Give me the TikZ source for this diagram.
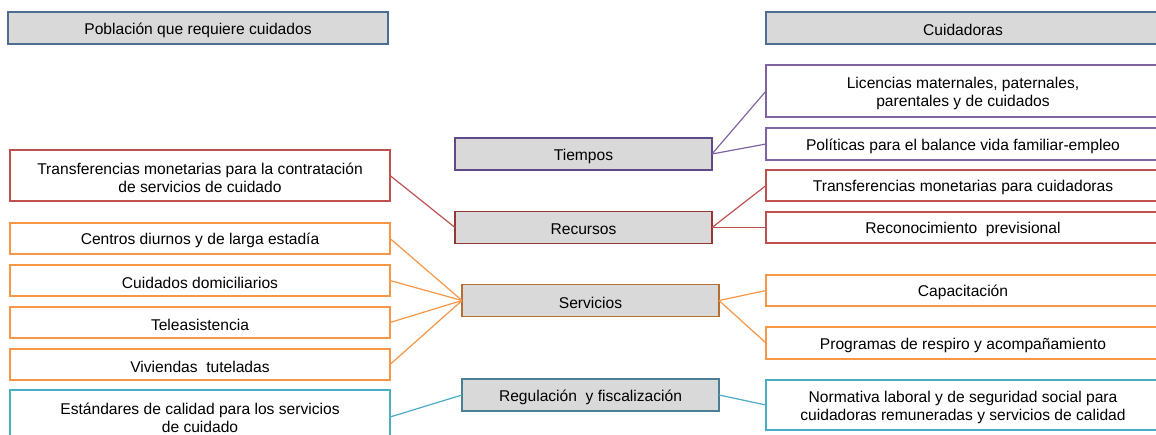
\documentclass[tikz,border=0pt]{standalone}
\usepackage{fontspec}
\setmainfont{Liberation Sans}
\definecolor{hdrline}{HTML}{4F6C91}
\definecolor{boxfill}{HTML}{D9D9D9}
\definecolor{purp}{HTML}{8064A2}
\definecolor{purpdk}{HTML}{5F4A87}
\definecolor{redl}{HTML}{C0504D}
\definecolor{reddk}{HTML}{953735}
\definecolor{oran}{HTML}{F79646}
\definecolor{orandk}{HTML}{B66D31}
\definecolor{cyan1}{HTML}{4BACC6}
\definecolor{cyandk}{HTML}{4A7E92}
\begin{document}
\begin{tikzpicture}[x=1pt,y=-1pt,
  every node/.style={inner sep=0pt, outer sep=0pt},
  txt/.style={font=\fontsize{15.6}{18}\selectfont, align=center, yshift=-2pt},
  box/.style={draw, line width=1.3pt, fill=white, minimum width=#1},
  hub/.style={draw, line width=1.3pt, fill=boxfill, minimum width=257pt, minimum height=32pt},
  hdr/.style={draw=hdrline, line width=1.3pt, fill=boxfill, minimum height=32pt},
  link/.style={line width=1.2pt}]
\useasboundingbox (0,0) rectangle (1156,434);
% column headings
\node[hdr, minimum width=380pt, label={[txt]center:{Población que requiere cuidados}}] (hl) at (198,28) {};
\node[hdr, minimum width=394pt, label={[txt]center:{Cuidadoras}}] (hr) at (963,28) {};
% central policy blocks
\node[hub, draw=purpdk, label={[txt]center:{Tiempos}}] (tiempos) at (583.5,154) {};
\node[hub, draw=reddk, label={[txt]center:{Recursos}}] (recursos) at (583.5,227.5) {};
\node[hub, draw=orandk, label={[txt]center:{Servicios}}] (servicios) at (590.5,300.5) {};
\node[hub, draw=cyandk, label={[txt]center:{Regulación\ \ y fiscalización}}] (regul) at (590.5,395) {};
% left column (population)
\node[box=380pt, draw=redl, minimum height=51pt, label={[txt]center:{Transferencias monetarias para la contratación\\de servicios de cuidado}}] (l1) at (200,175.5) {};
\node[box=380pt, draw=oran, minimum height=31pt, label={[txt]center:{Centros diurnos y de larga estadía}}] (l2) at (200,238.5) {};
\node[box=380pt, draw=oran, minimum height=31pt, label={[txt]center:{Cuidados domiciliarios}}] (l3) at (200,280.5) {};
\node[box=380pt, draw=oran, minimum height=31pt, label={[txt]center:{Teleasistencia}}] (l4) at (200,322.5) {};
\node[box=380pt, draw=oran, minimum height=31pt, label={[txt]center:{Viviendas\ \ tuteladas}}] (l5) at (200,364.5) {};
\node[box=380pt, draw=cyan1, minimum height=52pt, label={[txt]center:{Estándares de calidad para los servicios\\de cuidado}}] (l6) at (200,416) {};
% right column (caregivers)
\node[box=394pt, draw=purp, minimum height=52pt, label={[txt]center:{Licencias maternales, paternales,\\parentales y de cuidados}}] (r1) at (963,91) {};
\node[box=394pt, draw=purp, minimum height=32pt, label={[txt]center:{Políticas para el balance vida familiar-empleo}}] (r2) at (963,144) {};
\node[box=394pt, draw=redl, minimum height=31pt, label={[txt]center:{Transferencias monetarias para cuidadoras}}] (r3) at (963,185.5) {};
\node[box=394pt, draw=redl, minimum height=31pt, label={[txt]center:{Reconocimiento\ \ previsional}}] (r4) at (963,227.5) {};
\node[box=394pt, draw=oran, minimum height=31pt, label={[txt]center:{Capacitación}}] (r5) at (963,290.5) {};
\node[box=394pt, draw=oran, minimum height=32pt, label={[txt]center:{Programas de respiro y acompañamiento}}] (r6) at (963,343) {};
\node[box=394pt, draw=cyan1, minimum height=50pt, label={[txt]center:{Normativa laboral y de seguridad social para\\cuidadoras remuneradas y servicios de calidad}}] (r7) at (963,405) {};
% connectors
\draw[link, purp] (tiempos.east) -- (r1.west);
\draw[link, purp] (tiempos.east) -- (r2.west);
\draw[link, redl] (recursos.west) -- (l1.east);
\draw[link, redl] (recursos.east) -- (r3.west);
\draw[link, redl] (recursos.east) -- (r4.west);
\draw[link, oran] (servicios.west) -- (l2.east);
\draw[link, oran] (servicios.west) -- (l3.east);
\draw[link, oran] (servicios.west) -- (l4.east);
\draw[link, oran] (servicios.west) -- (l5.east);
\draw[link, oran] (servicios.east) -- (r5.west);
\draw[link, oran] (servicios.east) -- (r6.west);
\draw[link, cyan1] (regul.west) -- ([yshift=-1pt]l6.east);
\draw[link, cyan1] (regul.east) -- (r7.west);
\end{tikzpicture}
\end{document}
